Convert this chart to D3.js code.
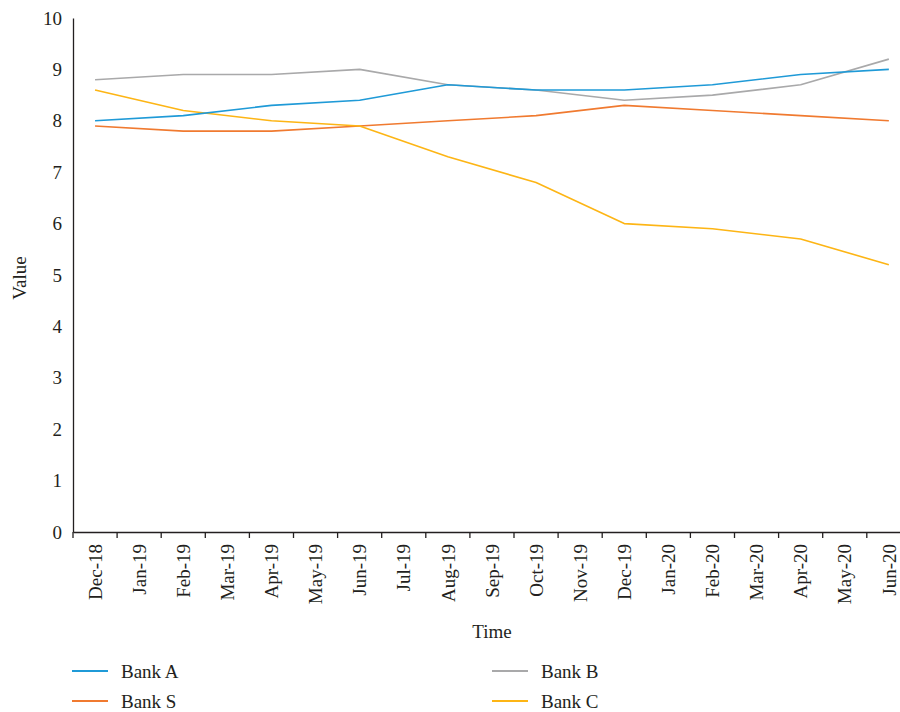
<!DOCTYPE html>
<html>
<head>
<meta charset="utf-8">
<script src="https://cdn.jsdelivr.net/npm/d3@7"></script>
<style>
  html, body { margin: 0; padding: 0; background: #fff; }
  svg { display: block; }
  text { font-family: "Liberation Serif", "DejaVu Serif", serif; fill: #231f20; }
</style>
</head>
<body>
<svg id="chart" width="900" height="712"></svg>
<script>
// Monthly axis categories
const months = ["Dec-18","Jan-19","Feb-19","Mar-19","Apr-19","May-19","Jun-19","Jul-19","Aug-19","Sep-19",
                "Oct-19","Nov-19","Dec-19","Jan-20","Feb-20","Mar-20","Apr-20","May-20","Jun-20"];
// Observations are bi-monthly
const obsMonths = ["Dec-18","Feb-19","Apr-19","Jun-19","Aug-19","Oct-19","Dec-19","Feb-20","Apr-20","Jun-20"];
const bankA = [8.0, 8.1, 8.3, 8.4, 8.7, 8.6, 8.6, 8.7, 8.9, 9.0];
const bankB = [8.8, 8.9, 8.9, 9.0, 8.7, 8.6, 8.4, 8.5, 8.7, 9.2];
const bankS = [7.9, 7.8, 7.8, 7.9, 8.0, 8.1, 8.3, 8.2, 8.1, 8.0];
const bankC = [8.6, 8.2, 8.0, 7.9, 7.3, 6.8, 6.0, 5.9, 5.7, 5.2];
const yTicks = [0,1,2,3,4,5,6,7,8,9,10];

const series = [
  { name: "Bank A", values: bankA, color: "#1f9ad7" },
  { name: "Bank S", values: bankS, color: "#f07a30" },
  { name: "Bank B", values: bankB, color: "#a9a9aa" },
  { name: "Bank C", values: bankC, color: "#fdb515" }
];
// draw order (later on top)
const drawOrder = ["Bank B", "Bank S", "Bank C", "Bank A"];

const svg = d3.select("#chart");
const plotLeft = 73, plotTop = 18, plotBottom = 532, step = 44.1;

const x = d3.scaleBand().domain(months).range([plotLeft, plotLeft + step * months.length]).padding(0);
const y = d3.scaleLinear().domain([0, 10]).range([plotBottom, plotTop]);

// y axis: line and labels only
const yAxis = svg.append("g").attr("transform", `translate(${plotLeft},0)`)
  .call(d3.axisLeft(y).tickValues(yTicks).tickSize(0).tickPadding(11).tickFormat(d3.format("d")));
yAxis.select(".domain").attr("stroke", "#231f20").attr("stroke-width", 1.3);
yAxis.selectAll("text").style("font-size", "19px").style("font-family", "Liberation Serif").attr("fill", "#231f20");

// x axis: boundary ticks between months, labels at month centres
const xAxis = svg.append("g").attr("transform", `translate(0,${plotBottom})`)
  .call(d3.axisBottom(x).tickSize(0).tickPadding(0));
xAxis.select(".domain").attr("stroke", "#231f20").attr("stroke-width", 1.3);
xAxis.selectAll(".tick text")
  .attr("transform", "rotate(-90)")
  .attr("x", -12).attr("y", 0).attr("dy", "0.35em")
  .style("text-anchor", "end")
  .style("font-size", "19px").style("font-family", "Liberation Serif")
  .attr("fill", "#231f20");
const bounds = months.map(m => x(m)).concat([x.range()[1]]);
xAxis.selectAll("line.bound").data(bounds).enter().append("line")
  .attr("class", "bound")
  .attr("x1", d => d).attr("x2", d => d).attr("y1", 0).attr("y2", 6)
  .attr("stroke", "#231f20").attr("stroke-width", 1.3);

// series lines
const line = d3.line()
  .x((d, i) => x(obsMonths[i]) + x.bandwidth() / 2)
  .y(d => y(d));
drawOrder.forEach(n => {
  const s = series.find(t => t.name === n);
  svg.append("path").datum(s.values)
    .attr("d", line)
    .attr("fill", "none")
    .attr("stroke", s.color)
    .attr("stroke-width", 1.6)
    .attr("stroke-linejoin", "round");
});

// axis titles
svg.append("text").attr("x", 492).attr("y", 638).attr("text-anchor", "middle")
  .style("font-size", "19px").text("Time");
svg.append("text").attr("transform", "translate(26,278) rotate(-90)").attr("text-anchor", "middle")
  .style("font-size", "19px").text("Value");

// legend
const legendPos = [
  { name: "Bank A", lx: 72, ly: 671 },
  { name: "Bank B", lx: 492, ly: 671 },
  { name: "Bank S", lx: 72, ly: 701 },
  { name: "Bank C", lx: 492, ly: 701 }
];
legendPos.forEach(p => {
  const s = series.find(t => t.name === p.name);
  svg.append("line").attr("x1", p.lx).attr("x2", p.lx + 36).attr("y1", p.ly).attr("y2", p.ly)
    .attr("stroke", s.color).attr("stroke-width", 1.8);
  svg.append("text").attr("x", p.lx + 49).attr("y", p.ly).attr("dy", "0.35em")
    .style("font-size", "19px").text(s.name);
});
</script>
</body>
</html>
